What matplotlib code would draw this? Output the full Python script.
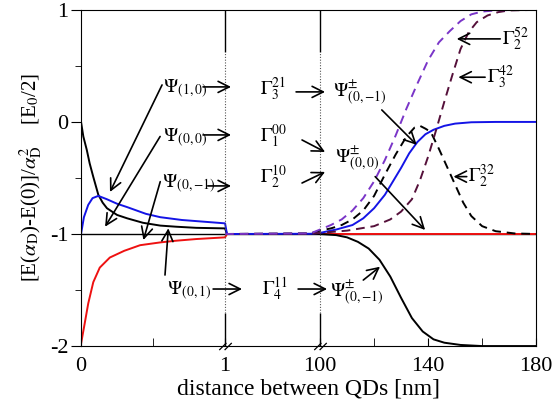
import numpy as np
import matplotlib
matplotlib.use("Agg")
import matplotlib.pyplot as plt
from matplotlib.path import Path

plt.rcParams['font.family'] = ['Liberation Serif', 'DejaVu Serif']
plt.rcParams['mathtext.fontset'] = 'stix'
plt.rcParams['axes.unicode_minus'] = False

# broken x axis: 0-1 | 1-100 | 100-180, relative widths of the three pieces
seg_x = [0, 1, 100, 180]
seg_u = [0, 144, 239, 455]

# left piece (0..1) and the join to -1 just after 1
x_blue = [0, 0.02, 0.05, 0.08, 0.12, 0.18, 0.25, 0.32, 0.45, 0.55, 0.7, 0.85, 1.0,
          3, 90, 100, 106, 112, 116, 120, 124, 127, 130, 133, 136, 139, 142, 146, 150, 156, 165, 180]
y_blue = [-1.0, -0.85, -0.74, -0.68, -0.66, -0.69, -0.73, -0.76, -0.82, -0.85, -0.875, -0.89, -0.905,
          -1.0, -0.998, -0.99, -0.96, -0.92, -0.86, -0.77, -0.65, -0.53, -0.41, -0.28, -0.18, -0.11, -0.07, -0.035, -0.015, -0.003, 0.0, 0.0]

x_black = [0, 0.016, 0.04, 0.06, 0.085, 0.12, 0.15, 0.18, 0.25, 0.32, 0.43, 0.55, 0.66, 0.8, 1.0,
           3, 100, 106, 110, 114, 118, 122, 126, 130, 134, 138, 142, 146, 152, 160, 180]
y_black = [0.0, -0.13, -0.25, -0.37, -0.49, -0.65, -0.72, -0.77, -0.83, -0.86, -0.90, -0.925, -0.935, -0.945, -0.95,
           -1.0, -1.0, -1.01, -1.03, -1.07, -1.13, -1.23, -1.38, -1.57, -1.75, -1.87, -1.94, -1.97, -1.99, -2.0, -2.0]

x_red = [0, 0.028, 0.05, 0.085, 0.13, 0.2, 0.3, 0.41, 0.55, 0.66, 0.8, 1.0, 3, 180]
y_red = [-1.98, -1.78, -1.62, -1.43, -1.30, -1.21, -1.15, -1.10, -1.075, -1.06, -1.045, -1.03, -1.0, -1.0]

# dashed curves (start at 1)
x_g32 = [1, 90, 100, 104, 108, 112, 116, 120, 124, 128, 132, 135, 137, 139, 141, 144, 147, 150, 153, 156, 160, 165, 172, 180]
y_g32 = [-1.0, -0.995, -0.97, -0.95, -0.92, -0.87, -0.79, -0.66, -0.47, -0.29, -0.13, -0.05, -0.035, -0.06, -0.09, -0.24, -0.40, -0.56, -0.72, -0.84, -0.93, -0.975, -0.995, -1.0]

x_g52 = [1, 90, 100, 104, 108, 112, 116, 120, 124, 128, 132, 136, 140, 144, 148, 152, 156, 160, 166, 180]
y_g52 = [-1.0, -0.995, -0.96, -0.92, -0.87, -0.79, -0.68, -0.53, -0.34, -0.12, 0.12, 0.34, 0.55, 0.71, 0.81, 0.90, 0.96, 0.985, 0.997, 1.0]

x_g42 = [1, 90, 100, 110, 120, 126, 130, 134, 137, 140, 143, 146, 149, 152, 155, 158, 162, 166, 170, 180]
y_g42 = [-1.0, -0.998, -0.99, -0.97, -0.93, -0.87, -0.80, -0.69, -0.52, -0.31, -0.07, 0.18, 0.42, 0.65, 0.80, 0.89, 0.95, 0.98, 0.995, 1.0]

xticks = [0, 1, 100, 140, 180]
xtick_labels = ['0', '1', '100', '140', '180']
yticks = [-2, -1, 0, 1]
ytick_labels = ['-2', '-1', '0', '1']


def fwd(x):
    return np.interp(x, seg_x, seg_u)


def inv(u):
    return np.interp(u, seg_u, seg_x)


fig = plt.figure(figsize=(5.55, 4.11), dpi=100)
ax = fig.add_axes([0.146, 0.158, 0.820, 0.818])
ax.set_xscale('function', functions=(fwd, inv))

lw = 1.4
ax.plot(x_red, y_red, color='#ee1111', lw=lw)
ax.plot(x_black, y_black, color='black', lw=lw)
ax.plot(x_blue, y_blue, color='#1414e6', lw=lw)
ax.plot(x_g32, y_g32, color='black', lw=lw, ls=(0, (4.5, 3)))
ax.plot(x_g42, y_g42, color='#55103a', lw=lw, ls=(0, (4.5, 3)))
ax.plot(x_g52, y_g52, color='#7a35c8', lw=lw, ls=(0, (4.5, 3)))

ax.set_xlim(0, 180)
ax.set_ylim(-2, 1)

# separators at the axis breaks
for xb in [1, 100]:
    ax.vlines(xb, 0.625, 1, color='black', lw=1)
    ax.vlines(xb, -2, -1.705, color='black', lw=1)
    ax.vlines(xb, -1.705, 0.625, color='#555555', lw=0.8, linestyles=(0, (1, 1.5)))

brk = Path([(-3.5, -2), (0.5, 2), (-0.5, -2), (3.5, 2)],
           [Path.MOVETO, Path.LINETO, Path.MOVETO, Path.LINETO])
ax.plot([1, 100], [-2, -2], ls='none', marker=brk, ms=9, mew=0.9, color='black', clip_on=False)

ax.xaxis.set_major_locator(plt.FixedLocator(xticks))
ax.set_xticklabels(xtick_labels)
ax.xaxis.set_minor_locator(plt.FixedLocator([0.5, 120, 160]))
ax.set_yticks(yticks)
ax.set_yticklabels(ytick_labels)
ax.yaxis.set_minor_locator(plt.FixedLocator([-1.5, -0.5, 0.5]))
ax.tick_params(axis='x', which='both', direction='in', length=6, labelsize=16, pad=8)
ax.tick_params(axis='y', which='major', direction='out', length=7, labelsize=16, pad=2)
ax.tick_params(axis='y', which='minor', direction='out', length=4)
ax.axhline(-1, color='black', lw=1.0, zorder=0)

ax.set_xlabel('distance between QDs [nm]', fontsize=17, labelpad=2)
ax.set_ylabel(r'[E($\alpha_{\rm D}$)-E(0)]/$\alpha_{\rm D}^2$    [E$_0$/2]', fontsize=15, labelpad=4)

fs = 14
arr = dict(arrowstyle='->,head_length=0.8,head_width=0.4', lw=1.2, color='black',
           shrinkA=0, shrinkB=0)

# left column labels
ax.text(0.569, 0.259, r'$\Psi_{(1,0)}$', fontsize=fs, va='baseline')
ax.text(0.569, -0.179, r'$\Psi_{(0,0)}$', fontsize=fs, va='baseline')
ax.text(0.56, -0.589, r'$\Psi_{(0,{-}1)}$', fontsize=fs, va='baseline')
ax.text(0.597, -1.545, r'$\Psi_{(0,1)}$', fontsize=fs, va='baseline')

ax.text(37.5, 0.241, r'$\Gamma^{21}_{3}$', fontsize=fs, va='baseline')
ax.text(37.5, -0.179, r'$\Gamma^{00}_{1}$', fontsize=fs, va='baseline')
ax.text(37.5, -0.545, r'$\Gamma^{10}_{2}$', fontsize=fs, va='baseline')
ax.text(39.6, -1.545, r'$\Gamma^{11}_{4}$', fontsize=fs, va='baseline')

ax.text(104.8, 0.223, r'$\Psi^{\pm}_{(0,{-}1)}$', fontsize=fs, va='baseline')
ax.text(105.6, -0.366, r'$\Psi^{\pm}_{(0,0)}$', fontsize=fs, va='baseline')
ax.text(103.7, -1.5625, r'$\Psi^{\pm}_{(0,{-}1)}$', fontsize=fs, va='baseline')

ax.text(167.4, 0.6875, r'$\Gamma^{52}_{2}$', fontsize=fs, va='baseline')
ax.text(161.9, 0.348, r'$\Gamma^{42}_{3}$', fontsize=fs, va='baseline')
ax.text(154.8, -0.536, r'$\Gamma^{32}_{2}$', fontsize=fs, va='baseline')

# label -> label arrows
ax.annotate('', xy=(7.25, 0.3125), xytext=(0.847, 0.3125), arrowprops=arr)
ax.annotate('', xy=(7.25, -0.116), xytext=(0.847, -0.116), arrowprops=arr)
ax.annotate('', xy=(7.25, -0.571), xytext=(0.88, -0.571), arrowprops=arr)
ax.annotate('', xy=(18.7, -1.491), xytext=(0.917, -1.491), arrowprops=arr)
ax.annotate('', xy=(101.85, 0.268), xytext=(75.0, 0.268), arrowprops=arr)
ax.annotate('', xy=(101.85, -0.268), xytext=(81.2, -0.161), arrowprops=arr)
ax.annotate('', xy=(101.85, -0.446), xytext=(81.2, -0.545), arrowprops=arr)
ax.annotate('', xy=(102.6, -1.491), xytext=(77.1, -1.491), arrowprops=arr)

# label -> curve arrows
ax.annotate('', xy=(0.201, -0.625), xytext=(0.5625, 0.33), arrowprops=arr)
ax.annotate('', xy=(0.167, -0.935), xytext=(0.549, -0.13), arrowprops=arr)
ax.annotate('', xy=(0.433, -1.054), xytext=(0.55, -0.533), arrowprops=arr)
ax.annotate('', xy=(0.606, -0.949), xytext=(0.583, -1.366), arrowprops=arr)
ax.annotate('', xy=(135.8, -0.205), xytext=(122.85, 0.107), arrowprops=arr)
ax.annotate('', xy=(138.9, -0.964), xytext=(120.4, -0.488), arrowprops=arr)
ax.annotate('', xy=(122.2, -1.292), xytext=(116.0, -1.411), arrowprops=arr)
ax.annotate('', xy=(150.6, 0.741), xytext=(166.7, 0.741), arrowprops=arr)
ax.annotate('', xy=(151.2, 0.399), xytext=(161.1, 0.399), arrowprops=arr)
ax.annotate('', xy=(149.4, -0.488), xytext=(154.3, -0.488), arrowprops=arr)

fig.savefig('out.png', dpi=100)
